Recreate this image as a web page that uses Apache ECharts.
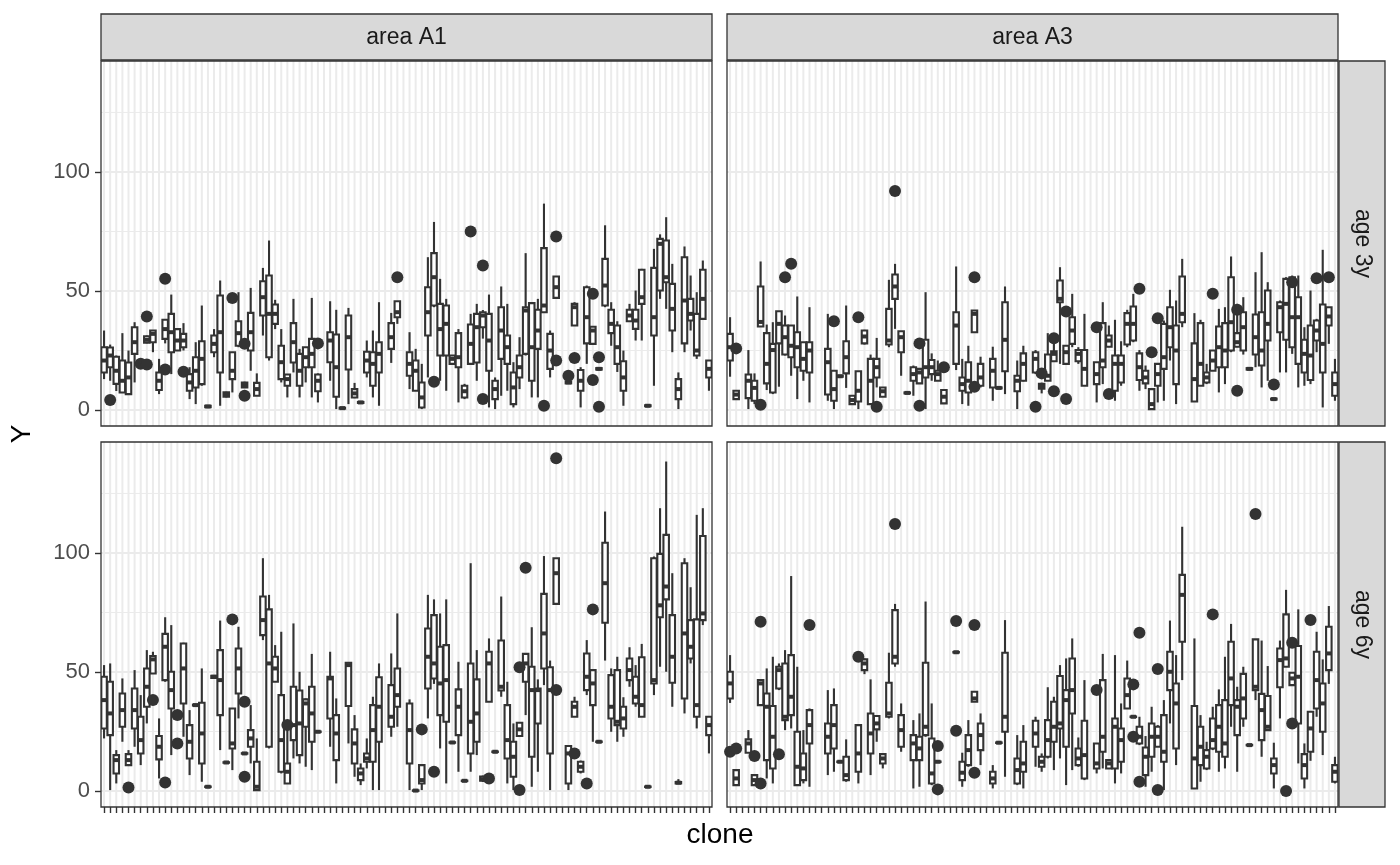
<!DOCTYPE html>
<html><head><meta charset="utf-8">
<script src="https://cdn.jsdelivr.net/npm/echarts@6/dist/echarts.min.js"></script>
<style>html,body{margin:0;padding:0;background:#fff}#chart{width:1400px;height:865px}</style>
</head><body><div id="chart"></div>
<script>
// ---------- DATA ----------
const clones = [];
for (let k = 1; k <= 100; k++) clones.push('clone' + k);
const colAreas = ['area A1', 'area A3'];
const rowAges = ['age 3y', 'age 6y'];
const yTicks = [0, 50, 100];
const yMinor = [25, 75, 125];

// box stats per clone: [min, Q1, median, Q3, max]; null = no data
const boxA1_3y = [
/*0*/ [13,15.8,20.8,26.4,33.4],[12.3,18,22.9,26.3,27.5],[8,11,16.5,22.4,22.9],[7.4,7.4,12.3,20.8,32.3],[6.7,6.7,13.7,20,25],
/*5*/ [11.6,23.6,28.5,34.8,36.9],null,[28,28.3,29.5,31,31.3],[24.3,28.5,32,33.4,33.4],[6.7,8.4,12.3,15.8,21.5],
/*10*/ [28,29.9,34,37.9,37.9],[15.1,24.3,32.7,40.4,48.5],[25,25,29.2,34,34],[25,26.4,29.2,32,36.5],[4.6,8.1,11.6,15.1,18],
/*15*/ [2.5,9.5,16.5,22.2,28.5],[10.2,10.9,21.5,28.9,43.9],[1,1.2,1.5,1.8,2],[22.2,24.3,27.8,31.3,34],[1.8,15.8,32.7,48.1,54.4],
/*20*/ [5.3,5.6,6.5,7.5,7.7],[7.4,13,16.5,24.3,24.3],[26.4,27,32.3,37.3,49.5],[9.3,9.5,10.5,11.5,11.9],[16.5,25,32.7,40.8,51.3],
/*25*/ [6,6,8.8,11.4,15.4],[31.3,39.7,47.4,54.1,59.7],[20.8,22.2,40.4,56.5,71.2],[34,36.2,40.4,44.3,46.3],[11.6,13,20.1,27,34],
/*30*/ [5.3,10.2,13,14.9,14.9],[15.8,20,28.5,36.5,46.7],[5.3,10.2,16.5,23.6,25.7],[11.6,18,22.2,26.4,26.4],[5.3,18,23.6,29.9,47.1],
/*35*/ [3.2,7.9,12.3,14.9,15.4],null,[12.3,20.1,29.2,32.7,45.7],[0.4,5.6,18,31.7,42.1],[0.5,0.6,0.8,1,1.1],
/*40*/ [2.5,17,30.6,39.7,42.9],[5,5.3,7,8.8,11.4],[2.8,3,3.2,3.4,3.6],[13.7,15.8,20.8,24.5,29.2],[5.3,10.2,19.4,24.3,33.4],
/*45*/ [1.8,15.8,23.6,28.5,45.3],null,[19.8,25.7,30.6,36.5,40.8],[36.2,39,41.1,45.7,45.7],null,
/*50*/ [8.8,14.4,19.4,24.3,32.7],[8.1,8.1,16.5,20.8,25.7],[0.4,1.1,5.3,11.6,19.4],[13.7,31.3,41.1,51.6,64.2],[43.2,43.9,55.8,65.9,79],
/*55*/ [12.3,22.9,34,44.6,55.1],[8.1,22.9,36.2,43.9,46.7],[19.4,19.4,21.5,22.9,22.9],[3.2,18,22.2,32.3,34],[4.6,5.3,7.9,10.2,11],
/*60*/ [19.4,19.4,27.8,35.9,40.4],[12.3,20,34.8,40.4,44.6],[30,34.8,39.7,41.1,42],[1.1,16.5,29.2,40.4,48.5],[0.4,4.6,8.8,12.3,13.7],
/*65*/ [6,21.5,33.4,43.2,51.9],[8.1,19.4,26.4,31.3,44.6],[1.1,2.5,9.5,15.8,20.1],[8.8,13.7,18,22.9,30.6],[22.9,23.6,41.8,43.2,65.9],
/*70*/ [5.3,12.3,26.4,44.9,45.3],[5.3,25.7,33.4,42.1,46.7],[41.1,41.1,43.9,68,86.7],[13.7,17.3,25,32,33.4],[47.1,47.1,51.6,56.1,56.1],
/*75*/ null,[11,11.2,11.6,12,12.2],[35.5,35.5,43.2,44.6,45.3],[1.1,8.1,12.3,16.8,18],[19.4,28,39,51.6,52.3],
/*80*/ [27.8,27.8,33.4,35,35],[16.8,17,17.3,17.6,17.8],[43.2,43.9,52.3,63.5,77.6],[27,32.3,36.2,42.1,45.3],[16,19.4,26.4,35.5,37.3],
/*85*/ [1.8,8.1,13.7,20.5,25],[37.3,37.3,39.7,42.1,44.6],[29.2,34.1,37.6,42.1,50.2],[29.2,44.6,47.4,58.9,59.3],[1.5,1.6,1.8,2,2.1],
/*90*/ [10.2,31.3,39,59.7,67.7],[46.7,50.2,69.8,71.9,73.8],[42.5,53.7,55.8,71.2,81],[24.3,33.4,42.5,53,61.4],[0.4,4.6,8.8,13,15.8],
/*95*/ [24.3,28,46,64.2,68.7],[33.4,37.6,40.4,46.7,56.5],[21.5,22.9,25,40.4,49.5],[38.3,38.3,46.7,58.9,62.8],[8.1,13.7,17.3,20.8,20.8]
];
const ptsA1_3y = [[1,4.2],[6,19.4],[7,19.1],[7,39.3],[10,55.1],[10,17],[13,16.1],[21,47.1],[23,27.8],[23,6],[35,28],[48,55.8],
  [54,11.9],[60,75],[62,60.7],[62,4.6],[72,1.8],[74,20.8],[74,72.9],[76,14.4],[77,21.9],[80,48.8],[80,12.6],[81,22.2],[81,1.4]];

const boxA3_3y = [
/*0*/ [14,20.8,26.4,32,39],[4.6,4.6,6.5,8.1,8.1],null,[0.4,5,12.3,14.9,25.2],[2.5,3.9,9.3,12.3,15.4],
/*5*/ [35,35.1,37,51.9,62.4],[8.4,11.2,19.4,32.3,35.9],[6.7,7.4,25.2,27.8,36.9],[9.8,28,36.2,41.5,41.5],[22.9,23.3,30.6,35.5,39.7],
/*10*/ [14.4,22.2,27,35.5,35.5],[4.6,18,26.4,32.7,47.7],[12.3,16.5,21.5,28.5,28.5],[3.2,15.8,25,28.5,43.2],null,
/*15*/ null,[3.9,6.5,20.1,25.7,40.4],[0.4,3.9,8.8,16.5,16.5],[13.8,14,14.2,14.4,14.6],[9.3,15.4,22.2,28.9,43.9],
/*20*/ [2.5,2.5,4.2,6,6],[0.4,3.6,8.1,16.3,16.3],[27.5,28,30.9,33.4,33.7],[2.5,2.5,12.3,21.5,23.3],[9.5,13.7,18,21.5,30.3],
/*25*/ [5.6,5.6,7.9,9.5,9.5],[26.4,27.5,29.2,42.5,54.7],[34.1,46.7,51.9,56.9,61.4],[14.4,24.3,30.6,33.1,33.1],[6.9,7,7.2,7.4,7.5],
/*30*/ [6,12.3,15.1,18,18.7],[11.2,11.2,15.8,17.3,17.3],[0.4,13.7,18,29.5,49.5],[12.3,15.1,18,21,23.8],[12.3,12.3,15.1,16.5,20.8],
/*35*/ [2.8,2.8,5.6,8.4,8.4],null,[16.8,19.4,35.5,41.1,60.3],[2.5,8.1,10.9,13.7,21.5],[1.8,7.4,12.3,20.1,27],
/*40*/ [32.7,32.7,40.4,41.8,41.8],[9.5,10.2,13.7,19.4,22.4],null,[3.9,9.5,16.5,21.5,26.6],[9,9.1,9.3,9.5,9.6],
/*45*/ [6.7,16.3,29.5,45.3,51.9],null,[0.4,7.9,12.3,14.4,20.8],[12,12.3,19.4,23.8,27],null,
/*50*/ [15.1,15.8,21.5,24.3,25.2],[7,9,10,11,11.5],[12.3,12.3,14.4,23.3,32.3],[20.5,20.5,23.6,24.7,28.5],[19.4,45.3,46.7,54.4,60],
/*55*/ [19.4,19.4,24.3,27,27],[26.4,27.8,33.4,39,48.8],[19.4,20.5,23.6,25.2,26.4],[10.2,10.2,17.3,25.2,40.4],null,
/*60*/ [3.2,10.9,15.1,20.1,20.1],[10.9,18,20.8,36.5,45.3],[26.4,26.6,29.2,31.3,35.5],[3.9,8.1,19.4,22.9,37.9],[10.2,11.6,19.4,22.9,28.9],
/*65*/ [26.4,27.5,36.2,40.7,42.1],[28.5,29.2,36.2,43.5,48.8],[8.1,12.6,18,23.8,25.2],[8.8,11.2,13.7,16.5,18.7],[0.4,0.4,2.5,8.8,8.8],
/*70*/ [3.2,10.2,15.1,19.4,19.4],[3.9,17.3,22.2,36.2,37.6],[20.8,26.4,34.8,43.2,50.5],[2.5,10.9,25,35.5,46],[34.8,36.9,40.4,56.1,63.5],
/*75*/ null,[3.6,3.6,13,28,40.7],[10.2,10.2,19.4,36.5,37.9],[10.9,11.6,13.7,15.8,19.4],[16.5,16.5,20.8,25,25],
/*80*/ [7.4,18,26.4,35.1,42.5],[10.9,18,25,36.5,43.2],[24.3,25,36.9,55.8,64.5],[26.4,26.6,28.5,32.3,44.6],[23.3,25,34.8,41.1,47.4],
/*85*/ [16.8,17,17.3,17.6,17.8],[18,23.3,30.6,40.1,57.9],[9.5,18.7,25,41.1,66.3],[12.3,29.2,36.2,50.2,53.7],[4.2,4.4,4.6,4.8,5],
/*90*/ [15.8,32.7,43.2,45.3,46],[15.8,29.5,44.6,55.1,55.8],[23.6,26.4,39,55.8,56.5],[9.5,19.4,39,47.4,56.5],[10.2,15.8,23.6,29.5,34.8],
/*95*/ [10.9,12.6,22.9,35.5,50.2],[24.3,29.2,33.4,37.6,38.3],[1.1,15.8,27.8,44.3,67.3],[27.8,35.5,39.3,43.2,43.2],[3.9,6,10.9,15.8,21.5]
];
const ptsA3_3y = [[1,25.9],[5,2.2],[9,55.8],[10,61.4],[17,37.3],[21,39],[24,1.4],[27,92],[31,28],[31,1.8],[35,18],[40,55.8],[40,9.8],
  [50,1.4],[51,15.4],[53,30.2],[53,7.9],[55,41.4],[55,4.6],[60,34.8],[62,6.7],[67,50.9],[69,24.3],[70,38.6],[79,48.8],[83,42.1],[83,8.1],
  [89,10.7],[92,53.7],[96,55.4],[98,55.8]];

const boxA1_6y = [
/*0*/ [22.1,26.3,38.2,48,52.9],[0.4,23.5,32.6,45.9,53.6],[3.2,7.4,13,15.1,17.2],[20.7,27,34,41,47.3],[10.5,10.9,13,15.5,17.2],
/*5*/ [18.6,26.3,34,43.1,50.8],[10.9,15.8,21.4,31.2,40.3],[28.4,35.4,43.8,51.5,59.2],[49.4,49.4,55.3,56.7,58.5],[5.3,13.3,18.6,23.1,30.5],
/*10*/ [45.9,46.6,60.6,66,73],[15.1,34.7,42.4,50.1,69.7],null,[22.8,36.8,51.5,62,62.3],[6.7,13.7,20.7,27.7,34],
/*15*/ [35.8,35.9,36.1,36.3,36.4],[3.9,11.6,24.2,37.1,51.5],[1.6,1.7,1.8,1.9,2],[47.3,47.5,48,48.4,48.6],[17.2,31.9,46.6,59.2,71.6],
/*20*/ [11.8,11.9,12,12.1,12.2],[8.8,17.9,20,34.7,34.7],[30.5,41,51.5,59.9,69],[15.6,15.7,15.8,15.9,16],[11.6,18.6,22.1,25.6,36.1],
/*25*/ [0.4,0.4,1.8,12.3,22.1],[63.4,65.5,71.8,81.7,97.8],[17.9,18.6,53.6,76.3,82.4],[45.9,45.9,51.5,56.4,61.3],[7.4,8.1,21.4,40.3,66.9],
/*30*/ [3.2,3.2,8.1,11.6,29.1],[13.7,21.4,27.7,43.8,70.4],[11.6,15.1,28.4,42.2,50.1],[10.2,27,36.8,38.5,38.9],[8.8,20.7,32.6,43.8,57.6],
/*35*/ [24.7,24.8,24.9,25,25.1],null,[18.6,30.5,47.3,48,58.5],[3.2,13,24.2,31.9,38.9],null,
/*40*/ [20,35.7,52.9,53.9,53.9],[6,11.6,20,25.9,31.9],[2.5,4.6,7.4,9.5,11.6],[9.5,12.3,13.7,15.8,22.1],[0.4,12.3,25.6,36.1,39.6],
/*45*/ [0.4,20.7,35.4,47.8,53.6],null,[22.8,27,31.2,44.5,57.8],[27,35.4,40.3,51.5,74.6],null,
/*50*/ [0.4,11.6,25.6,36.8,38.5],[0,0.1,0.2,0.3,0.4],[0.4,3.2,4.6,10.9,10.9],[30.5,43.1,56.4,68.3,82.4],[45,47.3,53.6,73.9,80.5],
/*55*/ [17.9,31.9,45.2,60.6,74.6],[3.2,29.1,46.6,61.3,80.5],[20.2,20.3,20.4,20.5,20.6],[8.1,23.5,35.4,42.7,54.3],[4.1,4.2,4.3,4.4,4.5],
/*60*/ [8.1,15.8,29.1,53.6,95.7],[15.1,20.7,32.6,46.9,59.2],[3.8,4.3,5,6.1,6.5],[37.5,37.5,53.6,58.5,64.1],[16.3,16.4,16.5,16.6,16.7],
/*65*/ [39.6,42.2,43.8,63.2,81.7],[3.2,13.7,21.4,36.1,45.9],[0.4,6,14.4,20.7,28.4],[23.1,23.1,25.9,28.7,28.7],[31.9,45.9,53.6,57.6,57.6],
/*70*/ [1.8,14.4,42.4,52.2,68.8],[8.1,28.4,42.4,43.1,46.9],[44.5,51.5,66.2,82.8,98.7],[0.4,15.8,42.4,52,54.8],[78.6,78.6,91.5,97.8,97.8],
/*75*/ null,[0.4,3.2,15.8,18.9,19.3],[31.2,31.2,35.4,37.5,39.6],[7.4,8.1,10.2,12.3,12.8],[40.3,42.4,48,57.8,63.4],
/*80*/ [20.7,36.1,45.2,50.8,50.8],[20.5,20.6,20.7,20.8,20.9],[54.8,70.7,87.3,104.3,117.4],[24.9,30.5,35.4,48.7,51.5],[20.7,27.7,29.1,50.8,56.4],
/*85*/ [22.8,26.3,30.5,35.4,39.4],[43.8,46.6,50.8,55.7,60.4],[35.4,36.8,39.6,48,52.9],[31.2,31.2,36.1,56.2,61.8],[1.6,1.7,1.8,1.9,2],
/*90*/ [40.3,45.2,46.6,97.8,98.5],[52.2,73,78,99.6,118.8],[50.1,80.5,85.9,107.6,138.4],[35.4,45.5,56.4,73.9,91.5],[3,3.2,3.5,3.8,5],
/*95*/ [32.6,38.9,66.2,95.7,97.8],[53.6,55.7,60.6,71.8,85.6],[26.3,31.2,36.1,72.1,116],[69.7,71.8,74.6,107.1,118.8],[15.8,23.5,27.7,31.2,31.2]
];
const ptsA1_6y = [[4,1.5],[8,38.2],[10,3.6],[12,31.9],[12,20],[21,72.1],[23,37.5],[23,6],[30,27.7],[52,25.9],[54,8.1],[63,5.3],
  [68,0.4],[68,52],[69,93.8],[74,42.4],[74,139.8],[77,15.8],[79,3.2],[80,76.3]];

const boxA3_6y = [
/*0*/ [37,38.9,45.2,50.1,57.1],[2.5,2.5,5.3,8.8,8.8],null,[16.1,16.1,20,21.7,25.6],[2.5,2.5,4.6,6.7,6.7],
/*5*/ [36,36.1,45.2,46.6,46.6],[5.3,13,35.4,41,51.5],[3.2,9.5,22.8,35.7,56.4],[42.4,43.1,50.8,52.2,53.6],[25.6,29.8,31.2,53.6,59.2],
/*10*/ [26.3,31.9,39.6,57.1,90.3],[2.5,2.5,10.2,24.9,52.2],[3.2,4.6,9.5,15.8,25.6],[1.8,20,27.7,34,34.7],null,
/*15*/ null,[6.7,15.8,22.8,28.4,42.4],[8.1,17.9,27.7,36.1,43.1],[12.1,12.2,12.3,12.4,12.5],[3.9,4.6,6.7,14.4,21.7],
/*20*/ null,[3.2,8.1,15.8,27.7,27.7],[49.1,50.8,53.6,55.3,55.7],[6.7,15.8,24.2,32.6,46.9],[20.7,25.9,28.4,31.5,31.5],
/*25*/ [9.5,11.6,13.7,15.5,15.5],[30.5,31.2,32.6,45.5,58.1],[52.2,53.6,56.4,76,78.6],[16.5,18.6,25.6,31.9,36.8],null,
/*30*/ [1.1,13,20,23.5,29.8],[1.8,13,17.9,22.8,32.6],[22.8,23.5,27,53.9,79.6],[2.5,3.2,7.4,22.1,36.8],[12.1,12.2,12.3,12.4,12.5],
/*35*/ null,null,[58.1,58.2,58.3,58.4,58.5],[1.8,4.6,7.7,12.3,16.1],[10.2,10.9,17.2,23.5,29.8],
/*40*/ [37.5,37.5,38.9,41.7,41.7],[10.9,17.2,23.5,28.4,32.6],null,[1.1,3.2,5.3,8.1,10.9],[20.1,20.2,20.3,20.4,20.5],
/*45*/ [6,24.9,31.2,58.1,71.8],null,[2.5,3.2,8.8,13.7,23.5],[1.1,8.1,11.6,20.7,27.7],null,
/*50*/ [10.2,18.6,24.2,29.5,31.2],[8.1,10.2,12.3,14.4,15.8],[13.7,14.4,21.4,29.8,43.6],[8.8,20.7,27,37.5,39.6],[13.7,26.3,28.4,48.3,52.9],
/*55*/ [2.5,18.6,38.2,42.4,55.7],[8.8,32.6,42.4,55.7,64.1],[10.2,10.9,13.7,17.9,22.5],[4.6,5.3,15.1,29.5,46.6],null,
/*60*/ [7.4,9.5,11.6,20,20],[9.5,16.5,22.8,46.6,57.6],[9.5,9.5,11.6,13,13],[3.2,9.5,27,30.5,57.1],[7.4,12.3,21.4,26.3,36.8],
/*65*/ [34.7,34.7,40.3,47.3,54.8],[31,31.1,31.2,31.3,31.4],[19.3,20,22.8,27,31.2],[1.8,6.7,14.4,18.3,23.1],[8.1,14.4,22.8,28.4,35.4],
/*70*/ [18.6,18.6,22.8,27,27.7],[0.4,12.3,16.5,31.9,38.2],[28.4,42.4,50.1,58.5,71.6],[10.9,17.9,36.8,45.2,57.1],[46.6,62.7,82.4,90.8,111],
/*75*/ null,[1.1,1.1,13.7,35.7,64.1],[3.9,10.9,18.6,27,31.9],[8.8,9.5,14.4,17.2,20.7],[17.2,17.9,21.4,30.5,35.4],
/*80*/ [8.1,16.5,27,36.1,42.7],[9.5,14.4,20,38.2,56.4],[27,36.1,47.3,62.7,70.2],[8.1,23.5,35.4,38.2,43.8],[27,30.5,38.9,49.2,52.2],
/*85*/ [19.1,19.2,19.3,19.4,19.5],[38.2,42.4,43.8,63.7,63.7],[14.4,21.4,34,40.8,63.2],[25.6,25.6,27,39.9,52.5],[1.1,7.4,10.9,13.7,20.3],
/*90*/ [30.5,43.6,55,59.9,63.2],[52.2,52.2,55.7,74.2,84.5],[44.5,44.5,47.3,49.7,49.7],[11.6,28.4,48,60.9,76.3],[1.1,5.3,10.9,15.5,20],
/*95*/ [12.7,16.5,26.3,33.3,33.3],[31.2,34.7,46.6,58.5,66.9],[15.1,24.9,36.8,45.2,55.3],[45,50.8,57.8,69,77.7],[3.2,3.9,8.1,10.9,14.4]
];
const ptsA3_6y = [[0,16.5],[1,17.9],[4,14.7],[5,3.2],[5,71.1],[8,15.5],[13,69.7],[21,56.4],[27,112.2],[34,18.9],[34,0.7],
  [37,71.4],[37,25.3],[40,69.7],[40,7.7],[60,42.4],[66,44.8],[66,22.8],[67,66.5],[67,3.9],[70,51.3],[70,0.4],[79,74.2],
  [86,116.4],[91,0],[92,62.3],[92,28.4],[95,71.8]];

// ---------- LAYOUT ----------
const Y_MIN = -6.7, Y_MAX = 146.6;
const panels = [
  {box: boxA1_3y, pts: ptsA1_3y, left: 101, top: 61, col: 0, row: 0},
  {box: boxA3_3y, pts: ptsA3_3y, left: 727, top: 61, col: 1, row: 0},
  {box: boxA1_6y, pts: ptsA1_6y, left: 101, top: 442, col: 0, row: 1},
  {box: boxA3_6y, pts: ptsA3_6y, left: 727, top: 442, col: 1, row: 1}
];
const PW = 611, PH = 365;
const INK = '#333333';
const FONT = '"Liberation Sans", Arial, sans-serif';

function renderGrid(params, api) {
  const cs = params.coordSys;
  const ch = [];
  yMinor.forEach(v => {
    const p = api.coord([0, v]);
    ch.push({type: 'line', shape: {x1: cs.x, y1: p[1], x2: cs.x + cs.width, y2: p[1]}, style: {stroke: '#EBEBEB', lineWidth: 1}});
  });
  for (let k = 0; k < clones.length; k++) {
    const p = api.coord([k, 0]);
    ch.push({type: 'line', shape: {x1: p[0], y1: cs.y, x2: p[0], y2: cs.y + cs.height}, style: {stroke: '#EBEBEB', lineWidth: 2}});
  }
  yTicks.forEach(v => {
    const p = api.coord([0, v]);
    ch.push({type: 'line', shape: {x1: cs.x, y1: p[1], x2: cs.x + cs.width, y2: p[1]}, style: {stroke: '#EBEBEB', lineWidth: 2}});
  });
  return {type: 'group', children: ch};
}

function renderBox(params, api) {
  const i = api.value(0);
  const pMin = api.coord([i, api.value(1)]);
  const pQ1 = api.coord([i, api.value(2)]);
  const pMed = api.coord([i, api.value(3)]);
  const pQ3 = api.coord([i, api.value(4)]);
  const pMax = api.coord([i, api.value(5)]);
  const cx = pMed[0];
  const bw = api.size([1, 0])[0] * 0.9;
  const ls = {stroke: INK, lineWidth: 2.1};
  return {type: 'group', children: [
    {type: 'line', shape: {x1: cx, y1: pMax[1], x2: cx, y2: pQ3[1]}, style: ls},
    {type: 'line', shape: {x1: cx, y1: pQ1[1], x2: cx, y2: pMin[1]}, style: ls},
    {type: 'rect', shape: {x: cx - bw / 2, y: pQ3[1], width: bw, height: Math.max(pQ1[1] - pQ3[1], 0.5)},
      style: {fill: '#ffffff', stroke: INK, lineWidth: 2.1}},
    {type: 'line', shape: {x1: cx - bw / 2, y1: pMed[1], x2: cx + bw / 2, y2: pMed[1]}, style: {stroke: INK, lineWidth: 4}}
  ]};
}

const grids = [], xAxes = [], yAxes = [], series = [], graphics = [];
panels.forEach((p, g) => {
  grids.push({left: p.left, top: p.top, width: PW, height: PH, show: true, backgroundColor: '#ffffff', borderWidth: 0});
  const isBottom = p.row === 1, isLeft = p.col === 0;
  xAxes.push({gridIndex: g, type: 'category', data: clones, boundaryGap: true, position: 'bottom',
    axisLine: {show: false, onZero: false}, axisLabel: {show: false}, splitLine: {show: false},
    axisTick: {show: isBottom, alignWithLabel: true, interval: 0, length: 6, lineStyle: {color: INK, width: 1.4}}});
  yAxes.push({gridIndex: g, type: 'value', min: Y_MIN, max: Y_MAX, position: 'left',
    axisLine: {show: false, onZero: false}, splitLine: {show: false},
    axisTick: {show: isLeft, length: 6, customValues: yTicks, lineStyle: {color: INK, width: 1.4}},
    axisLabel: {show: isLeft, customValues: yTicks, color: '#4D4D4D', fontSize: 22, fontFamily: FONT, margin: 11}});
  series.push({type: 'custom', xAxisIndex: g, yAxisIndex: g, z: 1, silent: true, clip: true,
    data: [[0, 0]], encode: {x: 0, y: 1}, renderItem: renderGrid});
  const bdata = [];
  p.box.forEach((b, i) => { if (b) bdata.push([i].concat(b)); });
  series.push({type: 'custom', xAxisIndex: g, yAxisIndex: g, z: 2, silent: true, clip: true,
    data: bdata, encode: {x: 0, y: [1, 2, 3, 4, 5]}, renderItem: renderBox});
  series.push({type: 'scatter', xAxisIndex: g, yAxisIndex: g, z: 3, silent: true,
    data: p.pts, symbol: 'circle', symbolSize: 12, itemStyle: {color: INK, opacity: 1}});
  graphics.push({type: 'rect', z: 100, silent: true, shape: {x: p.left, y: p.top, width: PW, height: PH},
    style: {fill: 'none', stroke: INK, lineWidth: 1.3}});
});

// strips
colAreas.forEach((t, c) => {
  const x = c === 0 ? 101 : 727;
  graphics.push({type: 'rect', z: 100, silent: true, shape: {x: x, y: 14, width: PW, height: 46},
    style: {fill: '#D9D9D9', stroke: INK, lineWidth: 1.3}});
  graphics.push({type: 'text', z: 101, silent: true, x: x + PW / 2, y: 38,
    style: {text: t, fill: '#1A1A1A', font: '23px ' + FONT, textAlign: 'center', textVerticalAlign: 'middle'}});
});
rowAges.forEach((t, r) => {
  const y = r === 0 ? 61 : 442;
  graphics.push({type: 'rect', z: 100, silent: true, shape: {x: 1339, y: y, width: 46, height: PH},
    style: {fill: '#D9D9D9', stroke: INK, lineWidth: 1.3}});
  graphics.push({type: 'text', z: 101, silent: true, x: 1362, y: y + PH / 2, rotation: -Math.PI / 2,
    style: {text: t, fill: '#1A1A1A', font: '23px ' + FONT, textAlign: 'center', textVerticalAlign: 'middle'}});
});
// axis titles
graphics.push({type: 'text', z: 101, silent: true, x: 720, y: 835,
  style: {text: 'clone', fill: '#000000', font: '28px ' + FONT, textAlign: 'center', textVerticalAlign: 'middle'}});
graphics.push({type: 'text', z: 101, silent: true, x: 22, y: 434, rotation: Math.PI / 2,
  style: {text: 'Y', fill: '#000000', font: '28px ' + FONT, textAlign: 'center', textVerticalAlign: 'middle'}});

const chart = echarts.init(document.getElementById('chart'), null, {renderer: 'canvas'});
chart.setOption({
  backgroundColor: '#ffffff',
  animation: false,
  grid: grids, xAxis: xAxes, yAxis: yAxes, series: series, graphic: graphics
});
</script>
</body></html>
